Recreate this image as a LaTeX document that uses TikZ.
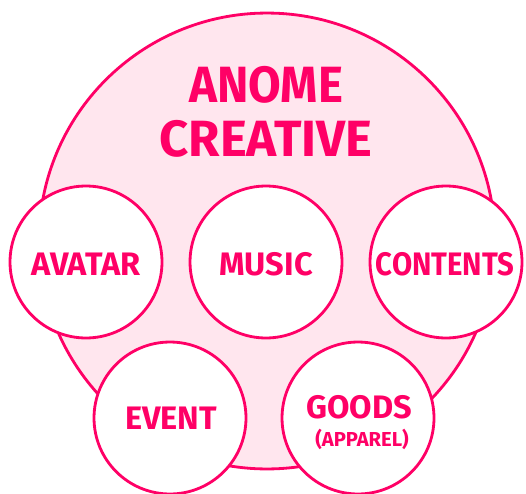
\documentclass[tikz,border=0pt]{standalone}
\usepackage{fontspec}
\newfontfamily\anomefont{Fira Sans}
\definecolor{anomepink}{HTML}{FF0066}
\definecolor{anomelight}{HTML}{FFE6EE}

\begin{document}
\begin{tikzpicture}[x=0.02cm,y=-0.02cm]
	\tikzstyle{big}=[draw=anomepink,fill=anomelight,shape=circle,line width=1.6pt,minimum size=9.12cm,inner sep=0pt]
	\tikzstyle{unit}=[draw=anomepink,fill=white,shape=circle,line width=1.6pt,minimum size=3.04cm,inner sep=0pt]
	\tikzstyle{word}=[text=anomepink,font=\anomefont\bfseries\fontsize{18.5}{20}\selectfont,inner sep=0pt]
	\tikzstyle{title}=[text=anomepink,font=\anomefont\bfseries\fontsize{29}{31}\selectfont,inner sep=0pt]
	
	\useasboundingbox (0,0) rectangle (526,493);
	
	\node[big](anome) at (267,241){};
	\node[title,xscale=0.93](t1) at (266,85){ANOME};
	\node[title](t2) at (266,139){CREATIVE};
	
	\node[unit](avatar) at (86,262){};
	\node[unit](music) at (266,262){};
	\node[unit](contents) at (446,262){};
	\node[unit](event) at (170,418){};
	\node[unit](goods) at (358,418){};
	
	\node[word](la) at (86,264){AVATAR};
	\node[word](lm) at (266,264){MUSIC};
	\node[word,xscale=0.9](lc) at (445,264){CONTENTS};
	\node[word](le) at (171,418){EVENT};
	\node[word](lg) at (359,407){GOODS};
	\node[word,font=\anomefont\bfseries\fontsize{11.5}{13}\selectfont](lp) at (362,439){(APPAREL)};
\end{tikzpicture}
\end{document}
